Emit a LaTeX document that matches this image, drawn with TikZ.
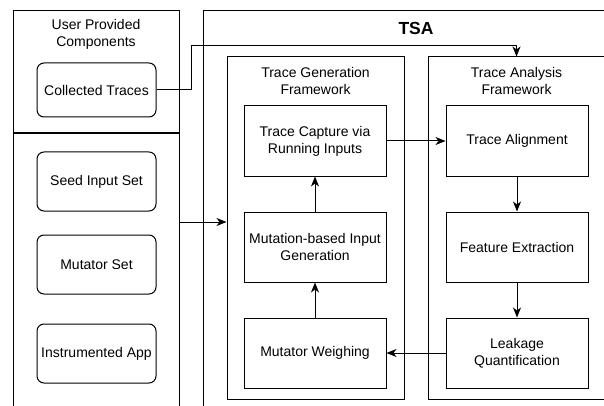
\documentclass[tikz,border=0pt]{standalone}
\usepackage{fontspec}
\setmainfont{Liberation Sans}
\usetikzlibrary{arrows.meta,positioning}
\tikzset{
    frame/.style={draw, inner sep=0pt},
    part/.style={draw, rounded corners=7pt, minimum width=119pt, minimum height=59pt, align=center, inner sep=0pt},
    stage/.style={draw, minimum width=142pt, minimum height=70pt, align=center, inner sep=2pt},
    heading/.style={align=center, inner sep=0pt}
}

\begin{document}
\begin{tikzpicture}[x=1pt,y=-1pt,line width=1pt,->,>={Stealth[length=10pt,width=8pt,inset=3pt]},
        font=\fontsize{14}{16.8}\selectfont]
            \useasboundingbox (0,0) rectangle (604,406);
            \clip (0,0) rectangle (604,406);

            % Draw the user provided components
            \node[frame, minimum width=166pt, minimum height=122pt] (upc) at (96,72) {};
            \node[frame, minimum width=166pt, minimum height=300pt] (inp) at (96,283) {};
            \draw[-, line width=2pt] (upc.south west) -- (upc.south east);
            \node[heading] (upclabel) at (96,34) {User Provided\\Components};
            \node[part, minimum height=54pt] (ct) at (96.5,90) {Collected Traces};

            % draw the input boxes below the divider
            \foreach \y/\nm/\txt in {181.5/seed/Seed Input Set, 264.5/mutset/Mutator Set, 353.5/app/Instrumented App}{
                \node[part] (\nm) at (96.5,\y) {\txt};
            }

            % Draw the TSA frames
            \node[frame, minimum width=426pt, minimum height=420pt] (tsa) at (416,221) {};
            \node[heading, font=\bfseries\fontsize{17.5}{21}\selectfont] (tsalabel) at (416,28) {TSA};
            \node[frame, minimum width=177pt, minimum height=342pt] (tgf) at (315.5,228) {};
            \node[frame, minimum width=177pt, minimum height=342pt] (taf) at (516.5,228) {};
            \node[heading] (tgflabel) at (315.5,81) {Trace Generation\\Framework};
            \node[heading] (taflabel) at (516.5,81) {Trace Analysis\\Framework};

            % the generation stages
            \foreach \y/\nm/\txt in {141/cap/{Trace Capture via\\Running Inputs}, 247/gen/{Mutation-based Input\\Generation}, 353/wgt/Mutator Weighing}{
                \node[stage] (\nm) at (315,\y) {\txt};
            }

            % the analysis stages
            \foreach \y/\nm/\txt in {141/align/Trace Alignment, 247/feat/Feature Extraction, 353/leak/{Leakage\\Quantification}}{
                \node[stage] (\nm) at (517,\y) {\txt};
            }

            % Draw the traces line into the analysis framework
            \coordinate (bend) at (191,46);
            \draw (ct.east) -| (bend) -| (taf.north);

            % Draw the inputs into the generation framework
            \coordinate (feed) at (179,222);
            \draw (feed) -- (feed -| tgf.west);

            % Draw the stage arrows
            \draw (cap.east) -- (align.west);
            \draw (align.south) -- (feat.north);
            \draw (feat.south) -- (leak.north);
            \draw (leak.west) -- (wgt.east);
            \draw (wgt.north) -- (gen.south);
            \draw (gen.north) -- (cap.south);
        \end{tikzpicture}
\end{document}
